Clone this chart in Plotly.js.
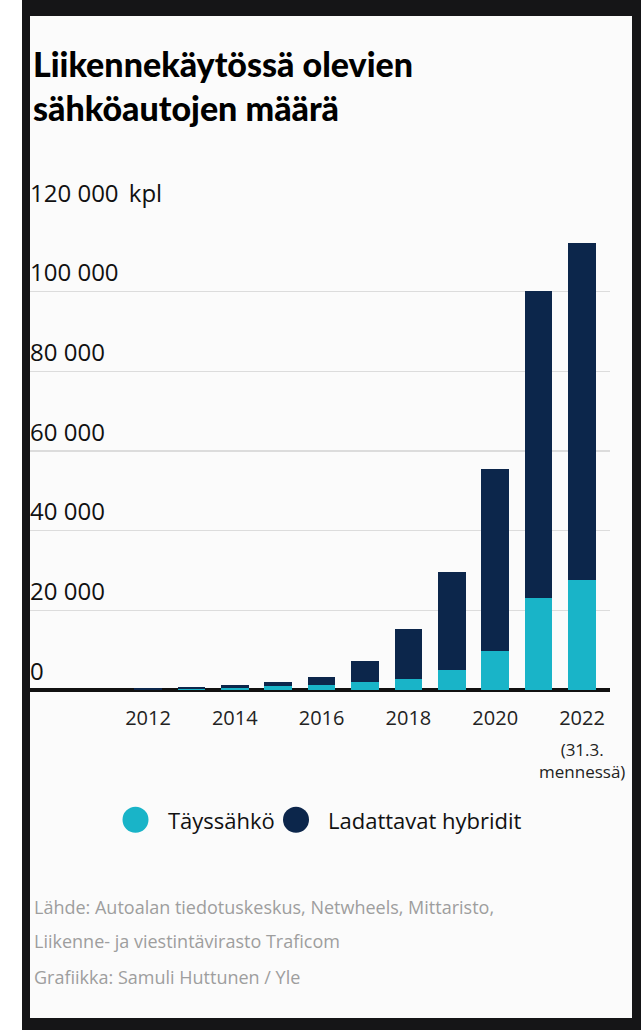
<!DOCTYPE html>
<html>
<head>
<meta charset="utf-8">
<script src="https://cdn.plot.ly/plotly-3.0.1.min.js"></script>
<style>
  html, body { margin: 0; padding: 0; background: #ffffff; width: 641px; height: 1030px; overflow: hidden; }
  #frame { position: absolute; left: 22px; top: 0; width: 619px; height: 1030px; background: #151517; }
  #chart { position: absolute; left: 30px; top: 16px; width: 602px; height: 1002px; background: #fbfbfb; }
</style>
</head>
<body>
<div id="frame"></div>
<div id="chart"></div>
<script>
// ---- data ----
const years = [2012, 2013, 2014, 2015, 2016, 2017, 2018, 2019, 2020, 2021, 2022];
const taysSahko = [100, 150, 600, 950, 1200, 1900, 2700, 5000, 9900, 23200, 27600];
const hybridit = [450, 500, 600, 1000, 2150, 5450, 12700, 24600, 45500, 76900, 84600];
const seriesNames = ['Täyssähkö', 'Ladattavat hybridit'];
const xTickVals = [2012, 2014, 2016, 2018, 2020, 2022];
const xTickText = ['2012', '2014', '2016', '2018', '2020', '2022'];
const yTickVals = [0, 20000, 40000, 60000, 80000, 100000, 120000];
const yTickText = ['0', '20 000', '40 000', '60 000', '80 000', '100 000', '120 000\u00a0\u2009kpl'];
const lastNote = '(31.3.<br>mennessä)';
const titleText = 'Liikennekäytössä olevien<br>sähköautojen määrä';
const sourceLines = [
  'Lähde: Autoalan tiedotuskeskus, Netwheels, Mittaristo,',
  'Liikenne- ja viestintävirasto Traficom',
  'Grafiikka: Samuli Huttunen / Yle'
];

// ---- styling ----
const CYAN = '#19b4c8';
const NAVY = '#0c264b';
const W = 602, H = 1002;
const M = { l: 0, r: 22, t: 196, b: 328 };
const PW = W - M.l - M.r, PH = H - M.t - M.b;
const px = x => (x - M.l) / PW;          // div px -> paper x
const py = y => (M.t + PH - y) / PH;     // div px -> paper y
const FONT = '"Open Sans", "Noto Sans", sans-serif';

const traces = [
  { type: 'bar', x: years, y: taysSahko, name: seriesNames[0], marker: { color: CYAN }, showlegend: false },
  { type: 'bar', x: years, y: hybridit, name: seriesNames[1], marker: { color: NAVY }, showlegend: false }
];

const annotations = [
  { x: years[years.length - 1], xref: 'x', y: py(744), yref: 'paper', text: lastNote, showarrow: false,
    xanchor: 'center', yanchor: 'middle', align: 'center', font: { family: FONT, size: 17, color: '#222' } },
  { x: px(135.6), xref: 'paper', y: py(803.7), yref: 'paper', text: seriesNames[0], showarrow: false,
    xanchor: 'left', yanchor: 'middle', font: { family: FONT, size: 22, color: '#111' } },
  { x: px(295.8), xref: 'paper', y: py(803.7), yref: 'paper', text: seriesNames[1], showarrow: false,
    xanchor: 'left', yanchor: 'middle', font: { family: FONT, size: 22, color: '#111' } }
];
const footY = [891, 924.5, 961];
sourceLines.forEach((t, i) => annotations.push({
  x: px(2), xref: 'paper', y: py(footY[i]), yref: 'paper', text: t, showarrow: false,
  xanchor: 'left', yanchor: 'middle', font: { family: FONT, size: 18, color: '#9e9e9e' }
}));

const legendDot = (cx, color) => ({
  type: 'circle', xref: 'paper', yref: 'paper', xsizemode: 'pixel', ysizemode: 'pixel',
  xanchor: px(cx), yanchor: py(803.7), x0: -13, x1: 13, y0: -13, y1: 13,
  fillcolor: color, line: { width: 0 }
});

const layout = {
  width: W, height: H,
  margin: { l: M.l, r: M.r, t: M.t, b: M.b, pad: 0 },
  paper_bgcolor: '#fbfbfb', plot_bgcolor: '#fbfbfb',
  barmode: 'stack', bargap: 0.366,
  showlegend: false,
  title: {
    text: titleText, xref: 'container', yref: 'container', x: 3 / W, xanchor: 'left',
    y: 1 - 61 / H, yanchor: 'top',
    font: { family: '"Lato Black", Lato, "Open Sans", sans-serif', size: 34, weight: 900, color: '#000' }
  },
  xaxis: {
    range: [2009.281, 2022.645], tickvals: xTickVals, ticktext: xTickText,
    showgrid: false, zeroline: false, showline: false, ticks: '',
    ticklabelstandoff: 14,
    tickfont: { family: FONT, size: 20, color: '#222' }, fixedrange: true
  },
  yaxis: {
    range: [0, 120000], tickvals: yTickVals, ticktext: yTickText,
    showgrid: true, gridcolor: '#dcdcdc', gridwidth: 1.5,
    zeroline: true, zerolinecolor: '#111', zerolinewidth: 3.5,
    showline: false, ticks: '',
    ticklabelposition: 'inside top', ticklabeloverflow: 'allow',
    ticklabelstandoff: -3, ticklabelshift: -2,
    tickfont: { family: FONT, size: 24, color: '#111' }, fixedrange: true
  },
  annotations: annotations,
  shapes: [legendDot(105.5, CYAN), legendDot(266, NAVY)]
};

Plotly.newPlot('chart', traces, layout, { staticPlot: true, displayModeBar: false });
</script>
</body>
</html>
